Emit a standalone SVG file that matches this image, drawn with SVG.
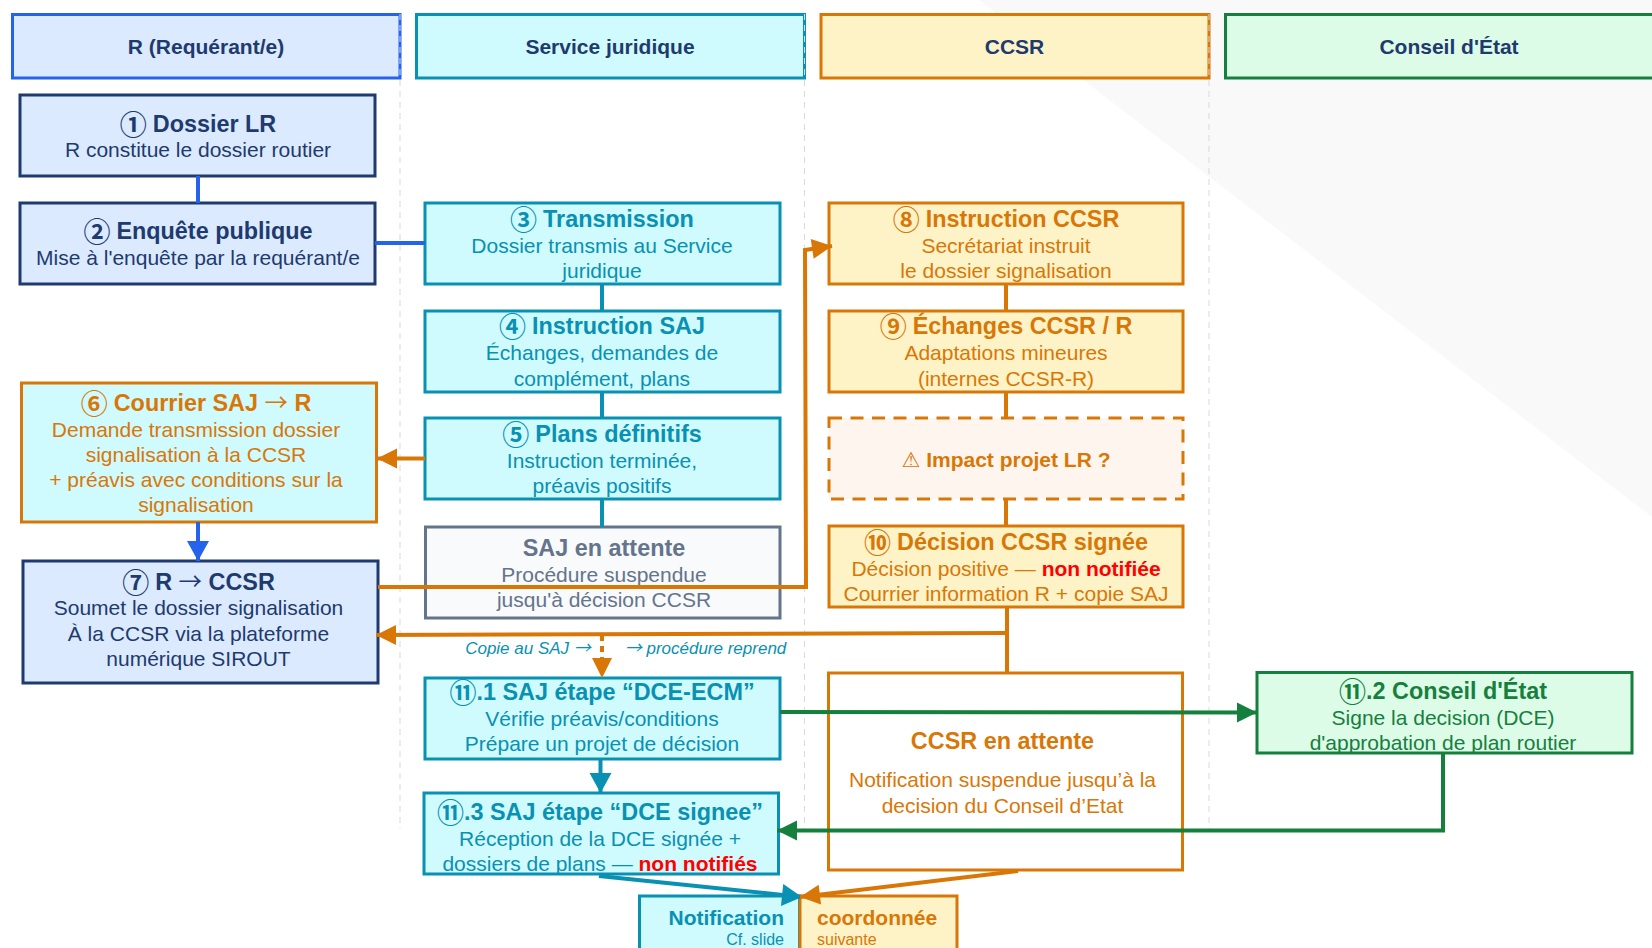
<svg xmlns="http://www.w3.org/2000/svg" width="1652" height="948" viewBox="0 0 1652 948">
<style>
text{font-family:"Liberation Sans",Arial,sans-serif;font-size:21px;text-anchor:middle}
.t{font-size:23.4px;font-weight:bold}
.h{font-weight:bold;fill:#1e3a6e}
.c{font-family:"Noto Sans CJK JP","DejaVu Sans",sans-serif;font-weight:bold;font-size:27px}
.a{font-family:"Noto Sans CJK JP","DejaVu Sans",sans-serif;font-weight:normal}
.r{fill:#ff0000;font-weight:bold}
rect{stroke-width:3}
.lane{stroke:#d9d9d9;stroke-width:1;stroke-dasharray:6 5;fill:none}
.navy rect{fill:#dbeafe;stroke:#1e3a6e}.navy text{fill:#1e3a6e}
.teal rect{fill:#cffafe;stroke:#0891b2}.teal text{fill:#0891b2}
.or rect{fill:#fef3c7;stroke:#d97706}.or text{fill:#d97706}
.gr rect{fill:#dcfce7;stroke:#15803d}.gr text{fill:#15803d}
.cl path,.cl line,.cl polyline{fill:none;stroke-width:4}
</style>
<defs>
<marker id="aB" markerUnits="userSpaceOnUse" markerWidth="24" markerHeight="24" refX="22" refY="12" orient="auto"><path d="M2 1L22 12L2 23Z" fill="#2563eb"/></marker>
<marker id="aO" markerUnits="userSpaceOnUse" markerWidth="24" markerHeight="24" refX="22" refY="12" orient="auto"><path d="M2 2L22 12L2 22Z" fill="#d97706"/></marker>
<marker id="aT" markerUnits="userSpaceOnUse" markerWidth="24" markerHeight="24" refX="22" refY="12" orient="auto"><path d="M2 1L22 12L2 23Z" fill="#0891b2"/></marker>
<marker id="aG" markerUnits="userSpaceOnUse" markerWidth="24" markerHeight="24" refX="22" refY="12" orient="auto"><path d="M2 2L22 12L2 22Z" fill="#15803d"/></marker>
</defs>
<rect width="1652" height="948" fill="#fff" style="stroke:none"/>
<polygon points="979,0 1652,0 1652,517" fill="#f9f9f9"/>
<g id="h1"><rect x="12.5" y="14.5" width="387.5" height="63.5" fill="#dbeafe" stroke="#2563eb"/><text x="206" y="53.5" class="h">R (Requérant/e)</text></g>
<g id="h2"><rect x="416.5" y="14.5" width="388" height="63.5" fill="#cffafe" stroke="#0891b2"/><text x="610" y="53.5" class="h">Service juridique</text></g>
<g id="h3"><rect x="821" y="14.5" width="388" height="63.5" fill="#fef3c7" stroke="#d97706"/><text x="1014.5" y="53.5" class="h">CCSR</text></g>
<g id="h4"><rect x="1225.5" y="14.5" width="440" height="63.5" fill="#dcfce7" stroke="#15803d"/><text x="1449" y="53.5" class="h">Conseil d'État</text></g>
<g id="lanes">
<line class="lane" x1="400" y1="14" x2="400" y2="829"/>
<line class="lane" x1="804.5" y1="14" x2="804.5" y2="829"/>
<line class="lane" x1="1209" y1="14" x2="1209" y2="829"/>
</g>

<g id="n1" class="navy"><rect x="20" y="95" width="355" height="81"/><text x="198" y="132" class="t"><tspan class="c" dy="3">①</tspan><tspan dy="-3" dx="6">Dossier LR</tspan></text><text x="198" y="157">R constitue le dossier routier</text></g>
<g id="n2" class="navy"><rect x="20" y="203" width="355" height="81"/><text x="198" y="239" class="t"><tspan class="c" dy="3">②</tspan><tspan dy="-3" dx="6">Enquête publique</tspan></text><text x="198" y="265">Mise à l'enquête par la requérant/e</text></g>
<g id="n3" class="teal"><rect x="425" y="203" width="355" height="81"/><text x="602" y="227" class="t"><tspan class="c" dy="3">③</tspan><tspan dy="-3" dx="6">Transmission</tspan></text><text x="602" y="253">Dossier transmis au Service</text><text x="602" y="278">juridique</text></g>
<g id="n4" class="teal"><rect x="425" y="311" width="355" height="81"/><text x="602" y="334" class="t"><tspan class="c" dy="3">④</tspan><tspan dy="-3" dx="6">Instruction SAJ</tspan></text><text x="602" y="360">Échanges, demandes de</text><text x="602" y="386">complément, plans</text></g>
<g id="n5" class="teal"><rect x="425" y="418" width="355" height="81"/><text x="602" y="442" class="t"><tspan class="c" dy="3">⑤</tspan><tspan dy="-3" dx="6">Plans définitifs</tspan></text><text x="602" y="468">Instruction terminée,</text><text x="602" y="493">préavis positifs</text></g>
<g id="n6" class="or"><rect x="21.5" y="383" width="355" height="139" style="fill:#cffafe"/><text x="196" y="411" class="t"><tspan class="c" dy="3">⑥</tspan><tspan dy="-3" dx="6">Courrier SAJ </tspan><tspan class="a">→</tspan> R</text><text x="196" y="437">Demande transmission dossier</text><text x="196" y="462">signalisation à la CCSR</text><text x="196" y="487">+ préavis avec conditions sur la</text><text x="196" y="512">signalisation</text></g>
<g id="n7" class="navy"><rect x="23" y="561" width="355" height="122"/><text x="198.5" y="590" class="t"><tspan class="c" dy="3">⑦</tspan><tspan dy="-3" dx="6">R </tspan><tspan class="a">→</tspan> CCSR</text><text x="198.5" y="615">Soumet le dossier signalisation</text><text x="198.5" y="641">À la CCSR via la plateforme</text><text x="198.5" y="666">numérique SIROUT</text></g>
<g id="wait-saj"><rect x="425.5" y="527" width="354.5" height="91" fill="#f8fafc" stroke="#64748b"/><text x="604" y="556" class="t" fill="#64748b">SAJ en attente</text><text x="604" y="582" fill="#64748b">Procédure suspendue</text><text x="604" y="607" fill="#64748b">jusqu'à décision CCSR</text></g>
<g id="n8" class="or"><rect x="829" y="203" width="354" height="81"/><text x="1006" y="227" class="t"><tspan class="c" dy="3">⑧</tspan><tspan dy="-3" dx="6">Instruction CCSR</tspan></text><text x="1006" y="253">Secrétariat instruit</text><text x="1006" y="278">le dossier signalisation</text></g>
<g id="n9" class="or"><rect x="829" y="311" width="354" height="81"/><text x="1006" y="334" class="t"><tspan class="c" dy="3">⑨</tspan><tspan dy="-3" dx="6">Échanges CCSR / R</tspan></text><text x="1006" y="360">Adaptations mineures</text><text x="1006" y="386">(internes CCSR-R)</text></g>
<g id="impact"><rect x="829" y="418" width="354" height="81" fill="#fef6ee" stroke="#d97706" stroke-dasharray="13 8.5"/><text x="1006" y="467" font-weight="bold" fill="#d97706"><tspan font-family="'DejaVu Sans',sans-serif" font-weight="bold" font-size="21">⚠</tspan> Impact projet LR ?</text></g>
<g id="n10" class="or"><rect x="829" y="526" width="354" height="81"/><text x="1006" y="550" class="t"><tspan class="c" dy="3">⑩</tspan><tspan dy="-3" dx="6">Décision CCSR signée</tspan></text><text x="1006" y="576">Décision positive — <tspan class="r">non notifiée</tspan></text><text x="1006" y="601">Courrier information R + copie SAJ</text></g>
<g id="wait-ccsr" class="or"><rect x="828.5" y="673" width="354" height="197" style="fill:#fff"/><text x="1002.5" y="749" class="t">CCSR en attente</text><text x="1002.5" y="787">Notification suspendue jusqu’à la</text><text x="1002.5" y="813">decision du Conseil d’Etat</text></g>
<g id="n11-1" class="teal"><rect x="425" y="678" width="355" height="81"/><text x="602" y="700" class="t"><tspan class="c" dy="3">⑪</tspan><tspan dy="-3">.1 SAJ étape “DCE-ECM”</tspan></text><text x="602" y="726">Vérifie préavis/conditions</text><text x="602" y="751">Prépare un projet de décision</text></g>
<g id="n11-2" class="gr"><rect x="1257" y="672.5" width="375" height="80.5"/><text x="1443" y="699" class="t"><tspan class="c" dy="3">⑪</tspan><tspan dy="-3">.2 Conseil d'État</tspan></text><text x="1443" y="725">Signe la decision (DCE)</text><text x="1443" y="750">d'approbation de plan routier</text></g>
<g id="n11-3" class="teal"><rect x="424" y="793" width="354.5" height="81"/><text x="600" y="820" class="t"><tspan class="c" dy="3">⑪</tspan><tspan dy="-3">.3 SAJ étape “DCE signee”</tspan></text><text x="600" y="846">Réception de la DCE signée +</text><text x="600" y="871">dossiers de plans — <tspan class="r">non notifiés</tspan></text></g>
<g id="notif" class="teal"><rect x="639.5" y="896" width="160" height="70"/><text x="784" y="925" class="t" style="font-size:21px;text-anchor:end">Notification</text><text x="784" y="945" style="font-size:16px;text-anchor:end">Cf. slide</text></g>
<g id="coord" class="or"><rect x="800" y="896" width="157" height="70"/><text x="817" y="925" class="t" style="font-size:21px;text-anchor:start">coordonnée</text><text x="817" y="945" style="font-size:16px;text-anchor:start">suivante</text></g>

<g id="connectors" class="cl">
<line x1="198" y1="176" x2="198" y2="203" stroke="#2563eb"/>
<line x1="375" y1="243" x2="425" y2="243" stroke="#2563eb"/>
<line x1="602" y1="284" x2="602" y2="311" stroke="#0891b2"/>
<line x1="602" y1="392" x2="602" y2="418" stroke="#0891b2"/>
<line x1="602" y1="499" x2="602" y2="527" stroke="#0891b2"/>
<line x1="425" y1="458.5" x2="377" y2="458.5" stroke="#d97706" marker-end="url(#aO)"/>
<line x1="198" y1="522" x2="198" y2="561" stroke="#2563eb" marker-end="url(#aB)"/>
<polyline points="378,587 806,587 805,250 832,246" stroke="#d97706" marker-end="url(#aO)"/>
<line x1="1006" y1="284" x2="1006" y2="311" stroke="#d97706"/>
<line x1="1006" y1="392" x2="1006" y2="418" stroke="#d97706"/>
<line x1="1006" y1="499" x2="1006" y2="526" stroke="#d97706"/>
<line x1="1007" y1="607" x2="1007" y2="673" stroke="#d97706"/>
<polyline points="1007,633 376,635" stroke="#d97706" marker-end="url(#aO)"/>
<line x1="602" y1="635" x2="602" y2="678" stroke="#d97706" stroke-dasharray="6 5" marker-end="url(#aO)"/>
<line x1="780" y1="712" x2="1257" y2="712.5" stroke="#15803d" marker-end="url(#aG)"/>
<polyline points="1443,753 1443,830.5 777,830.5" stroke="#15803d" marker-end="url(#aG)"/>
<line x1="600.5" y1="759" x2="600.5" y2="793" stroke="#0891b2" marker-end="url(#aT)"/>
<line x1="599" y1="876" x2="802" y2="897" stroke="#0891b2" marker-end="url(#aT)"/>
<line x1="1018" y1="871" x2="800" y2="897" stroke="#d97706" marker-end="url(#aO)"/>
</g>
<g id="edge-labels">
<text x="528" y="654" style="font-size:17px;font-style:italic" fill="#0891b2">Copie au SAJ <tspan class="a" font-size="17">→</tspan></text>
<text x="705.5" y="654" style="font-size:17px;font-style:italic" fill="#0891b2"><tspan class="a" font-size="17">→</tspan> procédure reprend</text>
</g>
</svg>
